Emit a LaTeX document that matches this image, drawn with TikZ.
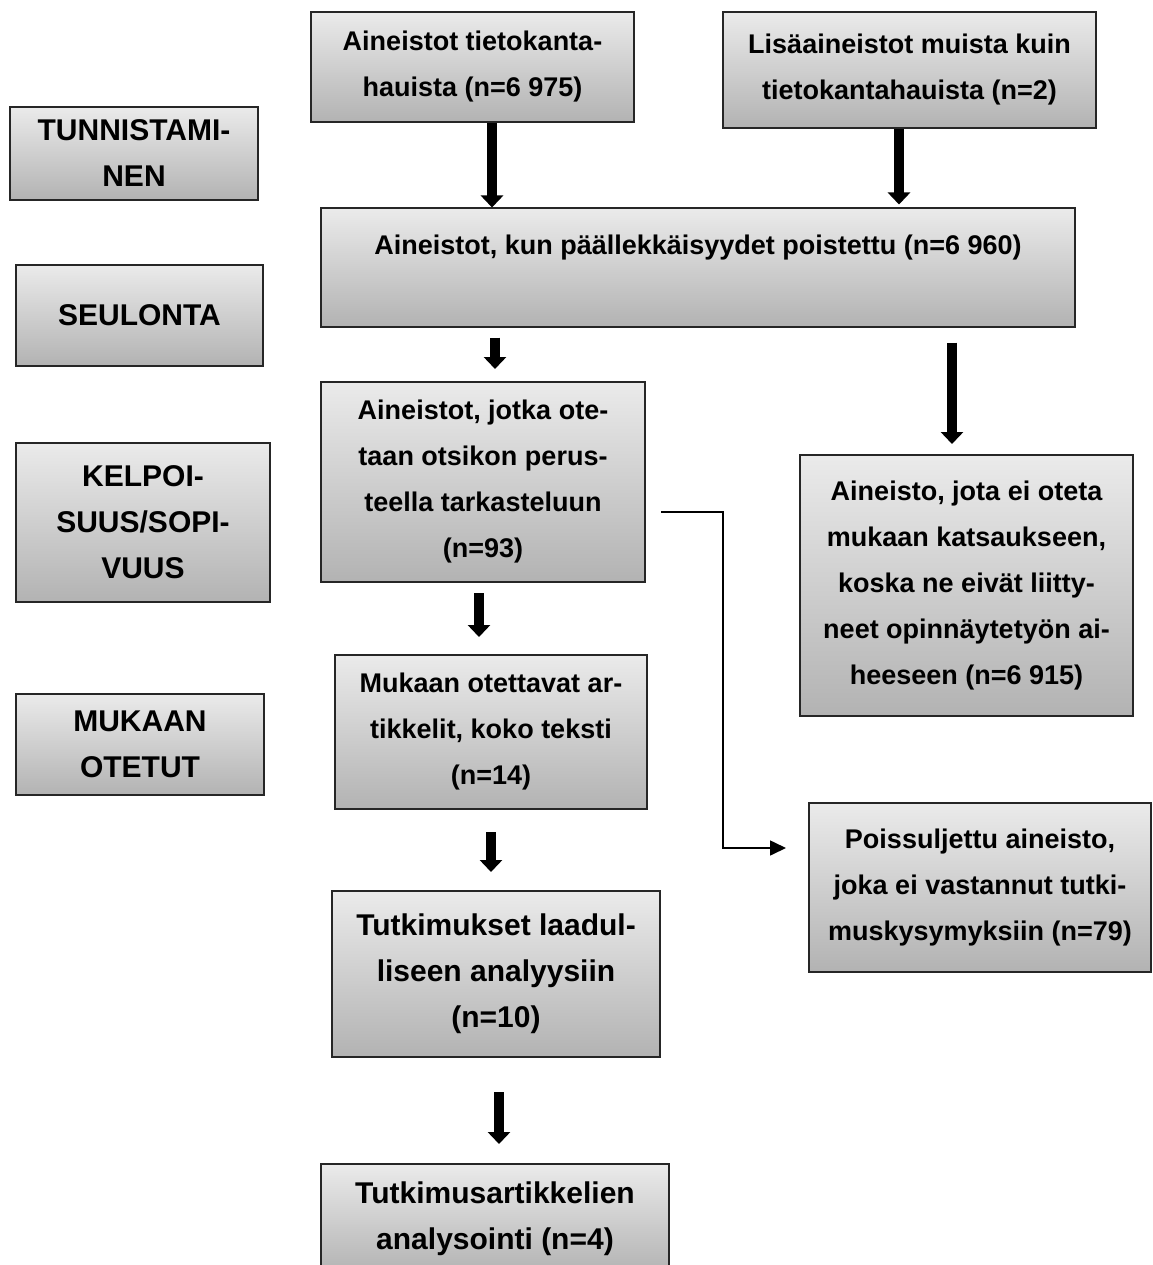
\documentclass[tikz,border=0pt]{standalone}
\usepackage{fontspec}
\setmainfont{Liberation Sans}
\usetikzlibrary{arrows.meta}

\begin{document}
\begin{tikzpicture}[
    x=1pt, y=-1pt,
    % Laatikot: harmaa liukuväri ylhäältä alas
    laatikko/.style={rectangle, draw=black!85, line width=2pt, top color=gray!16, bottom color=gray!60,
        align=center, inner sep=0pt, font=\fontsize{27}{46}\selectfont\bfseries},
    % Vaiheet ja loppulaatikot hieman isommalla tekstillä
    isoLaatikko/.style={laatikko, font=\fontsize{30}{46}\selectfont\bfseries},
    % Nuolet
    paksuNuoli/.style={-{Triangle[width=22pt,length=12pt]}, line width=10pt, black},
    ohutNuoli/.style={-{Triangle[width=15pt,length=16pt]}, line width=1.6pt, black}
]
\useasboundingbox (0,0) rectangle (1152,1265);

% --- VAIHEET (vasen sarake) ---
\node[isoLaatikko, minimum width=248pt, minimum height=93pt]  (tunn) at (134,153.5) {TUNNISTAMI-\\NEN};
\node[isoLaatikko, minimum width=247pt, minimum height=101pt] (seul) at (139.5,315.5) {SEULONTA};
\node[isoLaatikko, minimum width=254pt, minimum height=159pt] (kelp) at (143,522.5) {KELPOI-\\SUUS/SOPI-\\VUUS};
\node[isoLaatikko, minimum width=248pt, minimum height=101pt] (muk)  at (140,744.5) {MUKAAN\\OTETUT};

% --- AINEISTOT (keskisarake) ---
\node[laatikko, minimum width=323pt, minimum height=110pt] (tieto) at (472.5,67) {Aineistot tietokanta-\\hauista (n=6 975)};
\node[laatikko, minimum width=373pt, minimum height=116pt] (lisa)  at (909.5,70) {Lisäaineistot muista kuin\\tietokantahauista (n=2)};
\node[laatikko, minimum width=754pt, minimum height=118pt] (kun)   at (698,267.5) {Aineistot, kun päällekkäisyydet poistettu (n=6 960)\\\mbox{}};
\node[laatikko, minimum width=324pt, minimum height=200pt] (jotka) at (483,482) {Aineistot, jotka ote-\\taan otsikon perus-\\teella tarkasteluun\\(n=93)};
\node[laatikko, minimum width=312pt, minimum height=154pt] (otett) at (491,732) {Mukaan otettavat ar-\\tikkelit, koko teksti\\(n=14)};
\node[isoLaatikko, minimum width=328pt, minimum height=166pt] (tutk)  at (496,974) {Tutkimukset laadul-\\liseen analyysiin\\(n=10)};
\node[isoLaatikko, minimum width=348pt, minimum height=110pt] (artik) at (495,1219) {Tutkimusartikkelien\\analysointi (n=4)};

% --- POISTETUT (oikea sarake) ---
\node[laatikko, minimum width=333pt, minimum height=261pt] (jota)  at (966.5,585.5) {Aineisto, jota ei oteta\\mukaan katsaukseen,\\koska ne eivät liitty-\\neet opinnäytetyön ai-\\heeseen (n=6 915)};
\node[laatikko, minimum width=342pt, minimum height=169pt] (poiss) at (980,887.5) {Poissuljettu aineisto,\\joka ei vastannut tutki-\\muskysymyksiin (n=79)};

% --- NUOLET ---
\draw[paksuNuoli] (492,0 |- tieto.south) -- (492,0 |- kun.north);
\draw[paksuNuoli, shorten >=3pt] (899,0 |- lisa.south) -- (899,0 |- kun.north);
\draw[paksuNuoli, shorten <=10pt, shorten >=12pt] (495,0 |- kun.south) -- (495,0 |- jotka.north);
\draw[paksuNuoli, shorten <=15pt, shorten >=10pt] (952,0 |- kun.south) -- (952,0 |- jota.north);
\draw[paksuNuoli, shorten <=10pt, shorten >=17pt] (479,0 |- jotka.south) -- (479,0 |- otett.north);
\draw[paksuNuoli, shorten <=22pt, shorten >=18pt] (491,0 |- otett.south) -- (491,0 |- tutk.north);
\draw[paksuNuoli, shorten <=34pt, shorten >=19pt] (499,0 |- tutk.south) -- (499,0 |- artik.north);

% Ohut kulmanuoli poissuljettuihin
\draw[ohutNuoli, shorten <=15pt, shorten >=22pt] (jotka.east |- 0,512) -- (723,512) |- (poiss.west |- 0,848);

\end{tikzpicture}
\end{document}
